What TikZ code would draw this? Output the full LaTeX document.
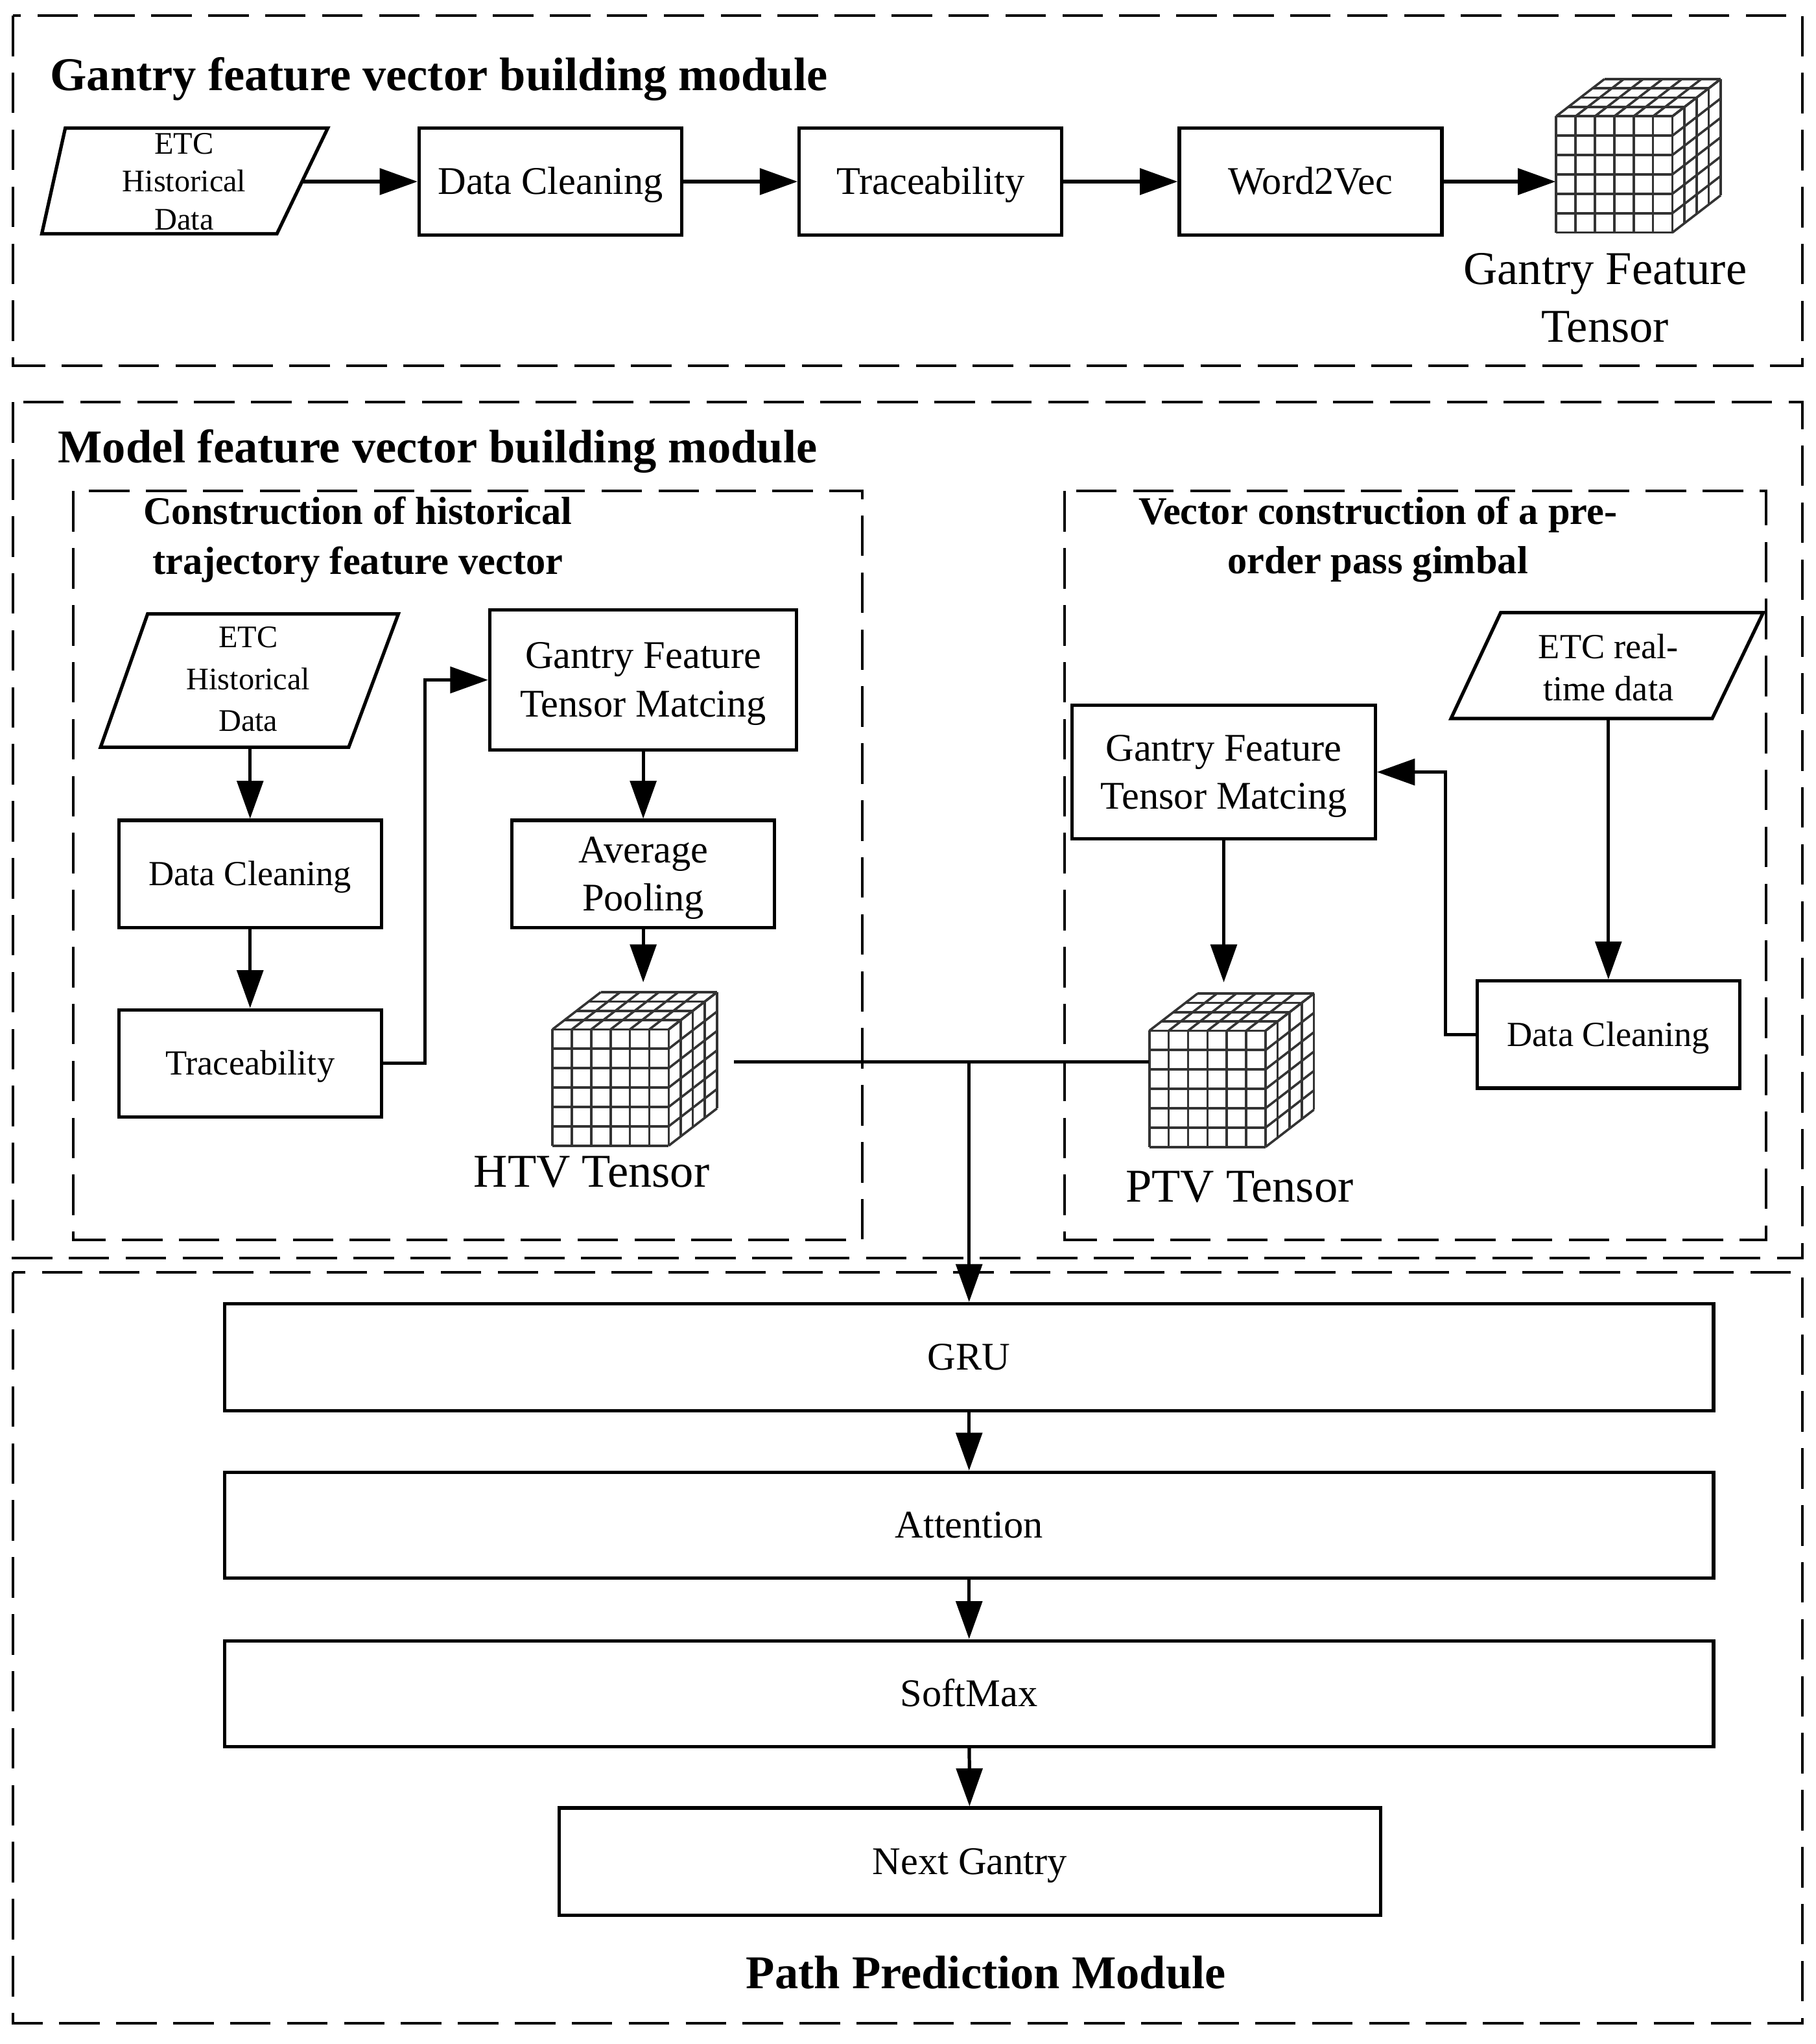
\documentclass[tikz,border=0pt]{standalone}
\usepackage{fontspec}
\setmainfont{Liberation Serif}
\usetikzlibrary{arrows.meta,calc}
\newcommand{\gridcube}[3]{%
  \node[inner sep=0pt,minimum size=44.5pt] (#1) at (#2+44.5,#3+44.5) {};
  \begin{scope}[shift={(#2,#3)}]
    \fill[white] (0,0) -- (0,89) -- (89,89) -- (126,60.5) -- (126,-28.5) -- (37,-28.5) -- cycle;
    \foreach \i in {0,...,6}{
      \draw[cubeline] ({\i*89/6},0) -- ({\i*89/6},89);
      \draw[cubeline] (0,{\i*89/6}) -- (89,{\i*89/6});
      \draw[cubeline] ({\i*89/6},0) -- ++(37,-28.5);
      \draw[cubeline] (89,{\i*89/6}) -- ++(37,-28.5);
    }
    \foreach \j in {0,...,4}{
      \draw[cubeline] ({\j*37/4},{-\j*28.5/4}) -- ++(89,0);
      \draw[cubeline] ({89+\j*37/4},{-\j*28.5/4}) -- ++(0,89);
    }
  \end{scope}}
\begin{document}
\begin{tikzpicture}[x=0.5pt,y=-0.5pt,
  boxline/.style={draw=black,line width=1.3pt},
  box/.style={boxline,fill=white,rectangle,inner sep=0pt,align=center},
  oneA/.style={box,fA,text height=9.9pt,text depth=0pt},
  oneB/.style={box,fB,text height=8.9pt,text depth=0pt},
  dashbox/.style={draw=black,line width=1pt,dash pattern=on 15.5pt off 6.3pt},
  arr/.style={line width=1.3pt,-{Triangle[length=14.5pt,width=10pt]}},
  conn/.style={line width=1.3pt},
  cubeline/.style={draw=black!80,line width=0.9pt},
  fA/.style={font=\fontsize{15}{18.5}\selectfont},
  fB/.style={font=\fontsize{13.5}{16}\selectfont},
  fsmall/.style={font=\fontsize{12}{14.5}\selectfont},
  ftitle/.style={font=\fontsize{18}{22}\selectfont\bfseries,inner sep=0pt},
  fsub/.style={font=\fontsize{15}{19}\selectfont\bfseries,inner sep=0pt,align=center},
  flabel/.style={font=\fontsize{18}{22}\selectfont,inner sep=0pt,align=center},
  onelabel/.style={flabel,text height=11.9pt,text depth=0pt},
  ptext/.style={inner sep=0pt,align=center}
]
\useasboundingbox (0,0) rectangle (1390,1564.7);

% module frames
\draw[dashbox] (10,12) rectangle (1380,280);
\draw[dashbox] (10,308) rectangle (1380,963);
\draw[dashbox] (56,376) rectangle (660,949);
\draw[dashbox] (815,376) rectangle (1352,949);
\draw[dashbox] (10,974) rectangle (1380,1549);

% titles
\node[ftitle,anchor=base west] (t1) at (38,69) {Gantry feature vector building module};
\node[ftitle,anchor=base west] (t2) at (44,354) {Model feature vector building module};
\node[fsub] (t3) at (274,413) {Construction of historical\\trajectory feature vector};
\node[fsub] (t4) at (1055,413) {Vector construction of a pre-\\order pass gimbal};
\node[ftitle,anchor=base] (t5) at (755,1522) {Path Prediction Module};

% ---- top module
\draw[boxline] (50,98) -- (251,98) -- (212,179) -- (32,179) -- cycle;
\node[ptext,fsmall] (etc1) at (141,139) {ETC\\Historical\\Data};
\coordinate (etc1r) at (231.5,139);
\node[oneA,minimum width=100.5pt,minimum height=41pt] (dc1) at (421.5,139) {Data Cleaning};
\node[oneA,minimum width=100.5pt,minimum height=41pt] (tr1) at (712.5,139) {Traceability};
\node[oneA,minimum width=100.5pt,minimum height=41pt] (w2v) at (1003.5,139) {Word2Vec};
\gridcube{cube1}{1191.5}{89}
\node[flabel] (gftl) at (1229,228) {Gantry Feature\\Tensor};

\draw[arr] (etc1r) -- (dc1.west);
\draw[arr] (dc1) -- (tr1);
\draw[arr] (tr1) -- (w2v);
\draw[arr] (w2v.east) -- (w2v.east -| cube1.west);

% ---- left inner module
\draw[boxline] (113,470) -- (305,470) -- (267,572) -- (77,572) -- cycle;
\node[ptext,font=\fontsize{12}{16}\selectfont] (etc2) at (190,520) {ETC\\Historical\\Data};
\coordinate (etc2b) at (191.5,572);
\node[oneB,minimum width=100.5pt,minimum height=41pt] (dc2) at (191.5,669) {Data Cleaning};
\node[oneB,minimum width=100.5pt,minimum height=41pt] (tr2) at (191.5,814) {Traceability};
\node[box,fA,minimum width=117.5pt,minimum height=53.5pt] (gm2) at (492.5,520.5) {Gantry Feature\\Tensor Matcin\smash{g}};
\node[box,fA,minimum width=100.5pt,minimum height=41pt] (ap) at (492.5,669) {Average\\Poolin\smash{g}};
\gridcube{htv}{423}{788}
\node[onelabel] (htvl) at (453,897) {HTV Tensor};
\coordinate (htvtop) at (492.5,752);

\draw[arr] (etc2b) -- (dc2.north);
\draw[arr] (dc2) -- (tr2);
\draw[arr] (tr2.east) -- ++(32,0) |- (gm2.west);
\draw[arr] (gm2) -- (ap);
\draw[arr] (ap.south) -- (htvtop);

% ---- right inner module
\draw[boxline] (1149,469) -- (1350,469) -- (1311,550) -- (1111,550) -- cycle;
\node[ptext,fB] (etc3) at (1231.5,511) {ETC real-\\time data};
\coordinate (etc3b) at (1231.5,550);
\node[oneB,minimum width=100.5pt,minimum height=41pt] (dc3) at (1231.5,792) {Data Cleaning};
\node[box,fA,minimum width=116pt,minimum height=51pt] (gm3) at (937,591) {Gantry Feature\\Tensor Matcin\smash{g}};
\gridcube{ptv}{880}{789}
\node[onelabel] (ptvl) at (949,908) {PTV Tensor};
\coordinate (ptvtop) at (937,752);

\draw[arr] (etc3b) -- (dc3.north);
\draw[arr] (dc3.west) -- ++(-23,0) |- (gm3.east);
\draw[arr] (gm3.south) -- (ptvtop);

% ---- join
\coordinate (htvout) at (562,813);
\coordinate (jn) at (742,813);
\draw[conn] (htvout) -- (htvout -| ptv.west);

% ---- prediction module
\node[oneA,minimum width=570pt,minimum height=41pt] (gru) at (742,1039) {GRU};
\node[oneA,minimum width=570pt,minimum height=40.5pt] (att) at (742,1167.5) {Attention};
\node[oneA,minimum width=570pt,minimum height=40.5pt] (soft) at (742,1296.5) {SoftMax};
\node[oneA,minimum width=314.5pt,minimum height=41pt] (next) at (742.5,1425) {Next Gantry};

\draw[arr] (jn) -- (gru.north);
\draw[arr] (gru) -- (att);
\draw[arr] (att) -- (soft);
\draw[arr] (soft) -- (next);
\end{tikzpicture}
\end{document}
